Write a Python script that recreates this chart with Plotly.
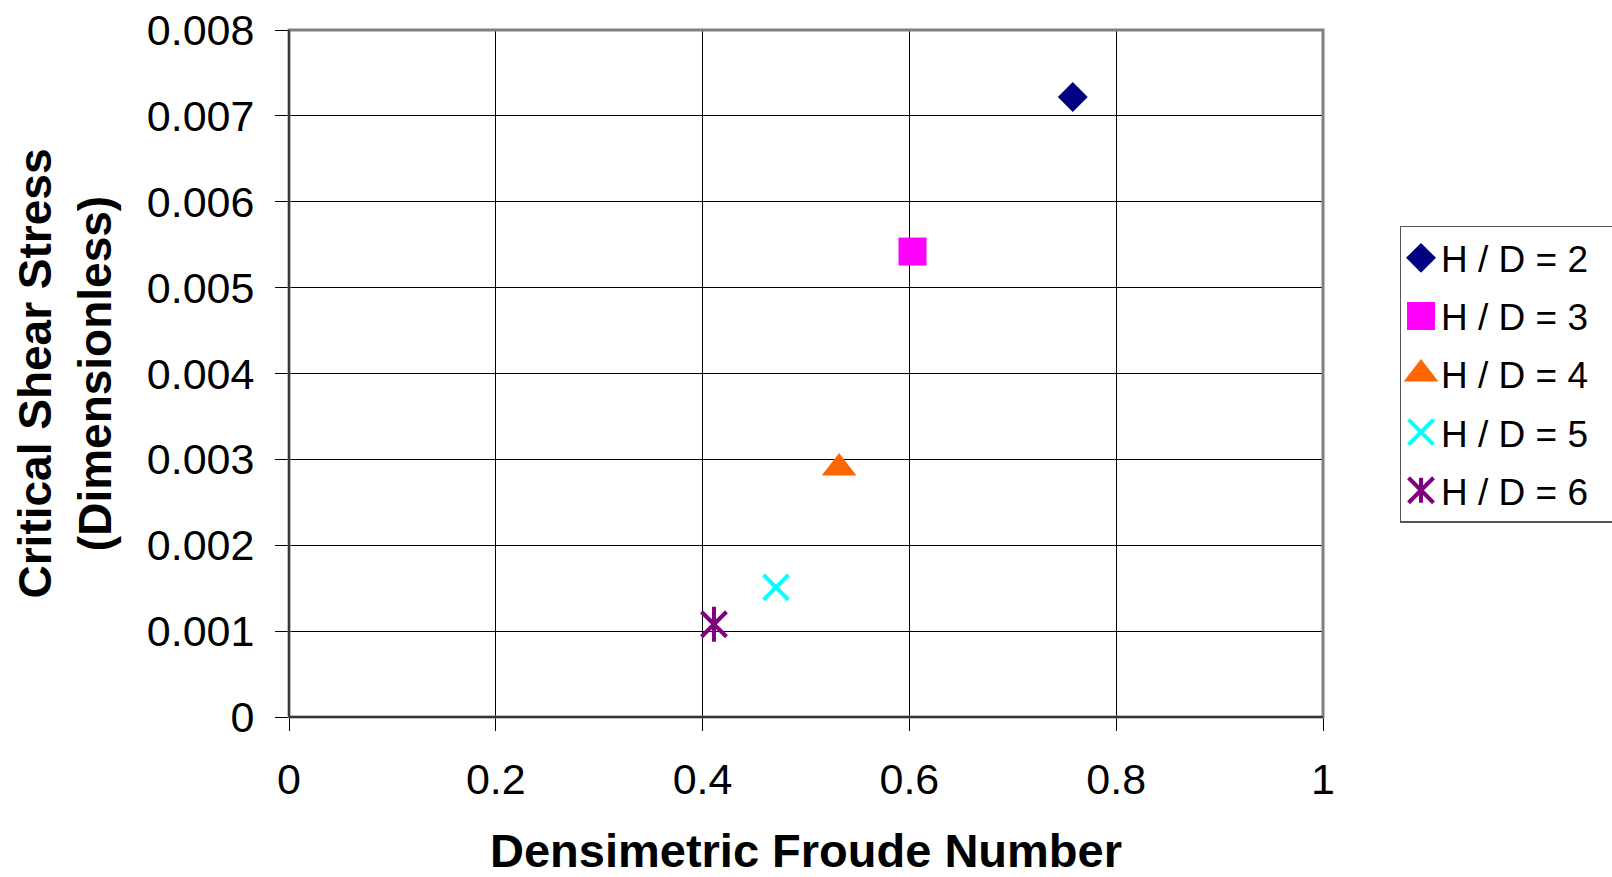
import plotly.graph_objects as go

# Critical shear stress versus densimetric Froude number, one point per H/D ratio
series_names = ["H / D = 2", "H / D = 3", "H / D = 4", "H / D = 5", "H / D = 6"]
froude = [0.758, 0.603, 0.532, 0.471, 0.411]
shear_stress = [0.00722, 0.00542, 0.00290, 0.00151, 0.00108]

colors = ["#000080", "#FF00FF", "#FF6600", "#00FFFF", "#800080"]
symbols = ["diamond", "square", "triangle-up", "x-thin", "x-thin"]
sizes = [23, 28, 30, 25, 25]

x_ticks = [0, 0.2, 0.4, 0.6, 0.8, 1]
y_ticks = [0, 0.001, 0.002, 0.003, 0.004, 0.005, 0.006, 0.007, 0.008]

FONT = "Liberation Sans, Arial, sans-serif"

fig = go.Figure()
for i, name in enumerate(series_names):
    open_sym = symbols[i].endswith("-thin")
    fig.add_trace(go.Scatter(
        x=[froude[i]], y=[shear_stress[i]], mode="markers", name=name,
        legendgroup=name,
        marker=dict(symbol=symbols[i], size=sizes[i], color=colors[i],
                    line=dict(width=4 if open_sym else 0, color=colors[i])),
    ))

# the H/D = 6 marker is a six-armed star: add the vertical stroke
fig.add_trace(go.Scatter(
    x=[froude[4]], y=[shear_stress[4]], mode="markers", name=series_names[4],
    legendgroup=series_names[4], showlegend=False,
    marker=dict(symbol="line-ns", size=sizes[4], color=colors[4],
                line=dict(width=4, color=colors[4])),
))

axis_common = dict(
    showgrid=True, gridcolor="#000000", gridwidth=1,
    zeroline=False, showline=False,
    ticks="outside", ticklen=13, tickwidth=1, tickcolor="#000000",
    tickfont=dict(family=FONT, size=43, color="#000000"),
)

fig.update_xaxes(range=[0, 1], tickvals=x_ticks, ticklabelstandoff=11,
                 title_text="<b>Densimetric Froude Number</b>", title_standoff=42,
                 title_font=dict(family=FONT, size=47, color="#000000"),
                 **axis_common)
fig.update_yaxes(range=[0, 0.008], tickvals=y_ticks,
                 ticktext=[("%g" % v) if v else "0" for v in y_ticks],
                 ticklabelstandoff=12,
                 title_text="<b>Critical Shear Stress<br>(Dimensionless)</b>",
                 title_standoff=20,
                 title_font=dict(family=FONT, size=46, color="#000000"),
                 **axis_common)

# plot-area frame: grey border, darker left and bottom axis lines
fig.add_shape(type="rect", xref="paper", yref="paper", x0=0, x1=1, y0=0, y1=1,
              line=dict(color="#808080", width=3), layer="above")
fig.add_shape(type="line", xref="paper", yref="paper", x0=0, x1=0, y0=0, y1=1,
              line=dict(color="#202020", width=1.5), layer="above")
fig.add_shape(type="line", xref="paper", yref="paper", x0=0, x1=1, y0=0, y1=0,
              line=dict(color="#202020", width=1.5), layer="above")

fig.update_layout(
    width=1612, height=877,
    margin=dict(l=289, r=289, t=30, b=160, autoexpand=False),
    paper_bgcolor="#FFFFFF", plot_bgcolor="#FFFFFF",
    showlegend=True,
    legend=dict(x=1.074, xanchor="left", y=0.715, yanchor="top",
                font=dict(family=FONT, size=37, color="#000000"),
                bordercolor="#555555", borderwidth=1.5, bgcolor="#FFFFFF",
                tracegroupgap=7, itemsizing="trace"),
)

# legend symbols are capped at 16 px by plotly; scale them up to the plotted size
LEGEND_CAP = 16.0
legend_scale = {name: round(sizes[i] / LEGEND_CAP, 3) for i, name in enumerate(series_names)}

post = """
var gd = document.getElementById('{plot_id}');
var scales = %s;
var star = %s;
gd.querySelectorAll('.legend .traces').forEach(function(tr){
  var txt = tr.querySelector('.legendtext');
  if(!txt) return;
  var name = txt.textContent;
  var k = scales[name];
  tr.querySelectorAll('.legendpoints path.scatterpts').forEach(function(p){
    if(name === star){
      var m = (p.getAttribute('d') || '').match(/^M([\\d.]+),/);
      if(m){ p.setAttribute('d', p.getAttribute('d') + 'M0,' + m[1] + 'V-' + m[1]); }
    }
    if(k && k !== 1){
      var t = p.getAttribute('transform') || '';
      p.setAttribute('transform', t + ' scale(' + k + ')');
      p.style.vectorEffect = 'non-scaling-stroke';
    }
  });
});
var bg = gd.querySelector('.legend rect.bg');
if(bg){ bg.setAttribute('width', 300); }
""" % (str(legend_scale).replace("'", '"'), '"' + series_names[4] + '"')

fig.write_html("out.html", post_script=post)
